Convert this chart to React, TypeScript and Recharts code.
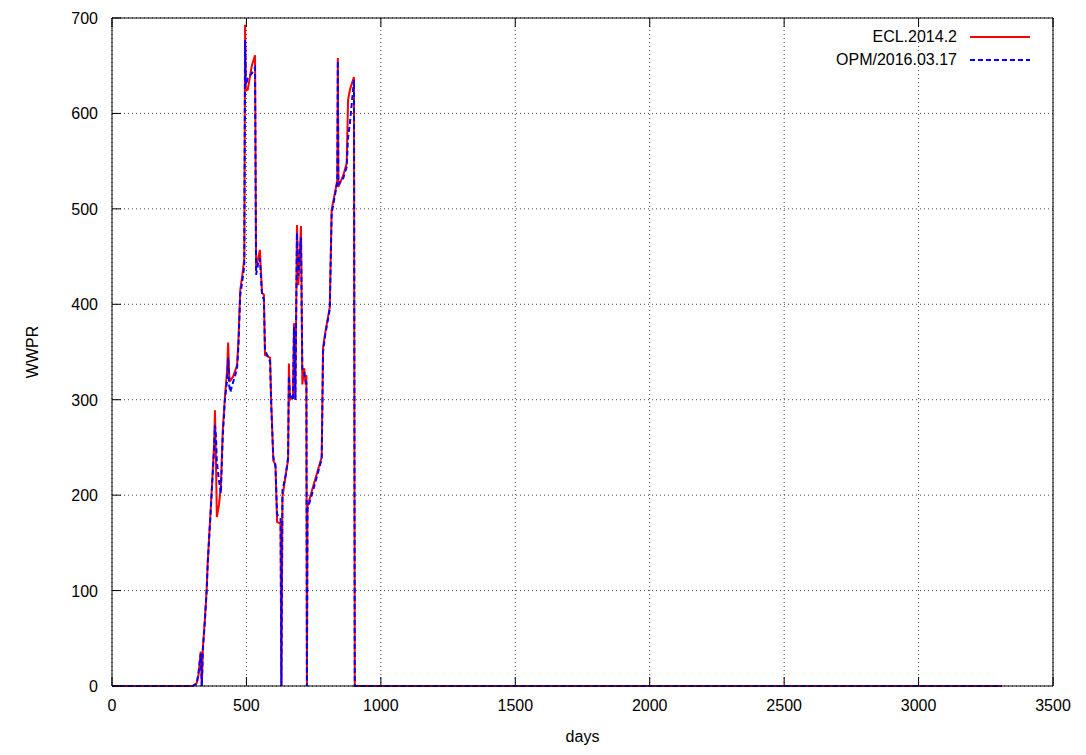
import { LineChart, Line, XAxis, YAxis, CartesianGrid, Legend, Label } from 'recharts';

// simulation output days and WWPR for the two simulators
const days = [
  0, 300, 315, 322, 330, 334, 338, 345, 352, 356, 370, 380, 383, 387, 390, 398, 405, 412, 420, 428,
  432, 436, 440, 450, 465, 470, 477, 485, 492, 495, 498, 505, 520, 532, 536, 545, 550, 558, 565, 569,
  588, 592, 600, 608, 614, 627, 630, 634, 647, 655, 658, 662, 673, 677, 682, 688, 693, 703, 708, 715,
  720, 723, 725, 727, 748, 780, 785, 793, 810, 817, 838, 840, 842, 860, 873, 878, 885, 900, 903, 3310,
];
const ecl = [
  0, 0, 3, 12, 36, 0, 40, 68, 100, 130, 200, 255, 289, 230, 177, 190, 210, 268, 303, 330,
  360, 325, 320, 324, 336, 360, 415, 431, 448, 693, 624, 625, 650, 661, 438, 450, 457, 412, 410, 347,
  344, 300, 236, 232, 172, 170, 0, 198, 223, 237, 338, 300, 303, 380, 300, 483, 420, 482, 316, 333,
  316, 326, 0, 188, 209, 240, 355, 370, 397, 499, 530, 658, 523, 535, 548, 614, 625, 638, 0, 0,
];
const opm = [
  0, 0, 2, 15, 34, 0, 38, 66, 100, 128, 198, 250, 273, 260, 235, 215, 202, 262, 300, 320,
  344, 315, 308, 318, 332, 355, 410, 425, 440, 677, 630, 637, 642, 648, 431, 445, 448, 410, 405, 352,
  340, 295, 240, 230, 180, 175, 0, 205, 222, 240, 325, 305, 300, 376, 300, 475, 430, 470, 330, 328,
  320, 318, 0, 185, 205, 238, 350, 368, 395, 495, 528, 655, 526, 532, 544, 575, 590, 635, 0, 0,
];
const seriesNames = ['ECL.2014.2', 'OPM/2016.03.17'];
const xTicks = [0, 500, 1000, 1500, 2000, 2500, 3000, 3500];
const yTicks = [0, 100, 200, 300, 400, 500, 600, 700];

const rows = days.map((d, i) => ({ day: d, ecl: ecl[i], opm: opm[i] }));

const FONT = '"Liberation Sans", Arial, Helvetica, sans-serif';
const TICK = 9;

const BottomTick = ({ x, y, payload }: any) => (
  <g>
    <line x1={x} x2={x} y1={y} y2={y - TICK} stroke="#000" />
    <text x={x} y={y + 25} textAnchor="middle" fontSize={16} fontFamily={FONT} fill="#000">
      {payload.value}
    </text>
  </g>
);
const TopTick = ({ x, y }: any) => <line x1={x} x2={x} y1={y} y2={y + TICK} stroke="#000" />;
const LeftTick = ({ x, y, payload }: any) => (
  <g>
    <line x1={x} x2={x + TICK} y1={y} y2={y} stroke="#000" />
    <text x={x - 14} y={y + 6} textAnchor="end" fontSize={16} fontFamily={FONT} fill="#000">
      {payload.value}
    </text>
  </g>
);
const RightTick = ({ x, y }: any) => <line x1={x} x2={x - TICK} y1={y} y2={y} stroke="#000" />;

const YTitle = ({ viewBox }: any) => {
  const cx = 24;
  const cy = viewBox.y + viewBox.height / 2;
  return (
    <text x={cx} y={cy} transform={`rotate(-90, ${cx}, ${cy})`} textAnchor="middle" dominantBaseline="central"
      fontSize={16} fontFamily={FONT} fill="#000">WWPR</text>
  );
};
const XTitle = ({ viewBox }: any) => (
  <text x={viewBox.x + viewBox.width / 2} y={viewBox.y + 56} textAnchor="middle" fontSize={16} fontFamily={FONT} fill="#000">
    days
  </text>
);

const LegendBox = () => (
  <div style={{ fontFamily: FONT, fontSize: 16, color: '#000' }}>
    {seriesNames.map((name, i) => (
      <div key={name} style={{ display: 'flex', alignItems: 'center', height: 23 }}>
        <span style={{ width: 200, textAlign: 'right' }}>{name}</span>
        <svg width={73} height={10} style={{ marginLeft: 13 }}>
          <line x1={0} x2={60} y1={5} y2={5} stroke={i === 0 ? '#ff0000' : '#0000ff'} strokeWidth={2}
            strokeDasharray={i === 0 ? undefined : '5 3'} />
        </svg>
      </div>
    ))}
  </div>
);

export default function App() {
  return (
    <LineChart width={1078} height={747} data={rows} margin={{ top: 9, right: 32, left: 0, bottom: 0 }}>
      <CartesianGrid stroke="#444" strokeDasharray="1 3" />
      <XAxis dataKey="day" type="number" domain={[0, 3500]} ticks={xTicks} height={69}
        tickSize={0} tickMargin={0} tickLine={false} axisLine={{ stroke: '#000' }} tick={BottomTick}>
        <Label content={XTitle} />
      </XAxis>
      <XAxis xAxisId="top" orientation="top" dataKey="day" type="number" domain={[0, 3500]} ticks={xTicks} height={1}
        tickSize={0} tickMargin={0} tickLine={false} axisLine={{ stroke: '#000' }} tick={TopTick} />
      <YAxis type="number" domain={[0, 700]} ticks={yTicks} width={104}
        tickSize={0} tickMargin={0} tickLine={false} axisLine={{ stroke: '#000' }} tick={LeftTick}>
        <Label content={YTitle} />
      </YAxis>
      <YAxis yAxisId="right" orientation="right" type="number" domain={[0, 700]} ticks={yTicks} width={1}
        tickSize={0} tickMargin={0} tickLine={false} axisLine={{ stroke: '#000' }} tick={RightTick} />
      <Legend layout="vertical" align="center" verticalAlign="middle" content={LegendBox}
        wrapperStyle={{ top: 17, left: 749, width: 300, bottom: 'auto', right: 'auto' }} />
      <Line type="linear" dataKey="ecl" name={seriesNames[0]} stroke="#ff0000" strokeWidth={2} dot={false}
        isAnimationActive={false} />
      <Line type="linear" dataKey="opm" name={seriesNames[1]} stroke="#0000ff" strokeWidth={2} strokeDasharray="5 3"
        dot={false} isAnimationActive={false} />
    </LineChart>
  );
}
